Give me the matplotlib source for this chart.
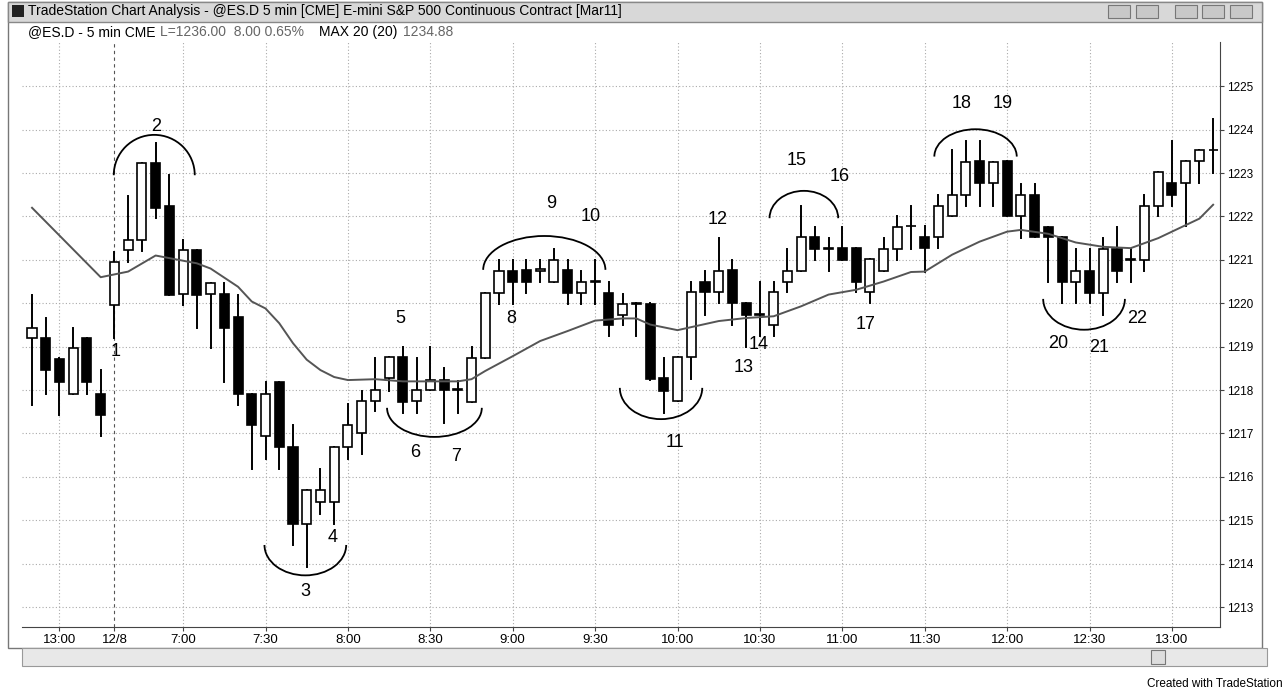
import matplotlib
matplotlib.use("Agg")
import matplotlib.pyplot as plt
from matplotlib.patches import Arc, Rectangle

opens = [1219.20,1219.19,1218.71,1217.92,1219.19,1217.92,1219.96,1221.23,1221.46,1223.23,
         1222.23,1220.22,1221.23,1220.22,1220.22,1219.69,1217.92,1216.94,1218.19,1216.69,
         1214.92,1215.42,1215.42,1216.69,1217.00,1217.75,1218.28,1218.76,1217.75,1217.99,
         1218.24,1217.99,1217.73,1218.74,1220.24,1220.75,1220.77,1220.75,1220.50,1220.77,
         1220.24,1220.50,1220.24,1219.74,1219.98,1219.98,1218.27,1217.75,1218.76,1220.50,
         1220.26,1220.77,1220.00,1219.74,1219.50,1220.50,1220.75,1221.52,1221.26,1221.27,
         1221.27,1220.26,1220.75,1221.26,1221.77,1221.52,1221.52,1222.00,1222.50,1223.27,
         1222.77,1223.27,1222.00,1222.50,1221.75,1221.52,1220.50,1220.75,1220.23,1221.25,
         1221.00,1221.00,1222.25,1222.77,1222.77,1223.27,1223.52]
closes = [1219.42,1218.46,1218.19,1218.96,1218.19,1217.42,1220.96,1221.46,1223.23,1222.19,
          1220.19,1221.22,1220.19,1220.46,1219.42,1217.92,1217.19,1217.92,1216.68,1214.92,
          1215.69,1215.69,1216.69,1217.19,1217.75,1217.99,1218.76,1217.73,1218.00,1218.24,
          1217.99,1218.02,1218.74,1220.24,1220.74,1220.50,1220.50,1220.79,1221.00,1220.24,
          1220.50,1220.52,1219.49,1219.98,1220.00,1218.25,1217.98,1218.76,1220.26,1220.26,
          1220.75,1220.00,1219.74,1219.76,1220.26,1220.75,1221.52,1221.26,1221.28,1221.00,
          1220.50,1221.03,1221.26,1221.75,1221.79,1221.27,1222.25,1222.50,1223.25,1222.77,
          1223.25,1222.00,1222.50,1221.52,1221.52,1220.50,1220.75,1220.23,1221.25,1220.75,
          1221.02,1222.25,1223.02,1222.50,1223.27,1223.52,1223.54]
highs = [1220.19,1219.65,1218.75,1219.42,1219.20,1218.46,1221.19,1222.46,1223.23,1223.70,
         1222.96,1221.46,1221.23,1220.46,1220.46,1220.19,1217.92,1218.19,1218.19,1217.19,
         1215.69,1216.19,1216.69,1217.69,1217.98,1218.73,1218.76,1218.99,1218.74,1218.99,
         1218.50,1218.22,1218.99,1220.24,1221.00,1221.00,1221.00,1221.00,1221.26,1221.00,
         1220.75,1221.00,1220.50,1220.21,1220.00,1220.00,1218.73,1218.76,1220.50,1220.75,
         1221.50,1221.00,1220.00,1220.50,1220.50,1221.26,1222.23,1221.75,1221.50,1221.75,
         1221.27,1221.03,1221.50,1222.00,1222.23,1221.77,1222.50,1223.52,1223.75,1223.75,
         1223.25,1223.27,1222.75,1222.75,1221.75,1221.52,1221.25,1221.25,1221.50,1221.75,
         1221.25,1222.50,1223.02,1223.75,1223.27,1223.52,1224.25]
lows = [1217.65,1217.92,1217.42,1217.92,1217.92,1216.94,1219.19,1220.96,1221.20,1221.96,
        1220.19,1219.96,1219.42,1218.96,1218.19,1217.65,1216.19,1216.42,1216.19,1214.42,
        1213.92,1215.15,1214.92,1216.42,1216.52,1217.52,1217.98,1217.48,1217.48,1217.99,
        1217.25,1217.48,1217.73,1218.74,1219.98,1219.98,1220.24,1220.50,1220.50,1219.98,
        1219.98,1219.98,1219.24,1219.49,1219.24,1218.24,1217.48,1217.75,1218.25,1219.74,
        1220.00,1219.50,1219.00,1219.24,1219.24,1220.26,1220.75,1221.00,1220.75,1221.00,
        1220.26,1220.00,1220.75,1221.00,1221.26,1220.73,1221.27,1222.00,1222.25,1222.25,
        1222.25,1222.00,1221.50,1221.52,1220.50,1220.00,1220.00,1220.00,1219.73,1220.50,
        1220.50,1220.75,1222.00,1222.25,1221.77,1222.77,1223.00]

ma_idx = [0,5,7,9,10,12,13,15,16,17,18,19,20,21,22,23,25,27,29,31,32,33,35,37,39,41,43,44,
          45,47,48,50,52,54,56,58,60,62,64,65,67,69,71,72,74,76,78,80,82,84,85,86]
ma_val = [1222.2,1220.6,1220.73,1221.1,1221.04,1220.92,1220.8,1220.38,1220.04,1219.88,1219.54,
          1219.08,1218.7,1218.46,1218.3,1218.23,1218.25,1218.2,1218.2,1218.2,1218.25,1218.44,
          1218.78,1219.13,1219.36,1219.6,1219.65,1219.65,1219.51,1219.38,1219.45,1219.59,
          1219.66,1219.7,1219.93,1220.2,1220.31,1220.5,1220.72,1220.73,1221.12,1221.42,
          1221.65,1221.69,1221.6,1221.4,1221.3,1221.27,1221.5,1221.8,1221.95,1222.27]

tick_idx = [2,6,11,17,23,29,35,41,47,53,59,65,71,77,83]
tick_lbl = ["13:00","12/8","7:00","7:30","8:00","8:30","9:00","9:30","10:00","10:30",
            "11:00","11:30","12:00","12:30","13:00"]
price_ticks = list(range(1213, 1226))

ann_text = [str(k) for k in range(1, 23)]
ann_x = [6.1,9,19.9,21.9,26.8,27.9,30.9,34.9,37.8,40.7,46.8,49.9,51.8,52.9,55.7,58.8,60.7,67.7,70.7,74.7,77.7,80.5]
ann_y = [1218.88,1224.08,1213.35,1214.6,1219.66,1216.57,1216.48,1219.66,1222.3,1222.0,1216.8,
         1221.94,1218.53,1219.04,1223.28,1222.93,1219.5,1224.6,1224.6,1219.08,1218.97,1219.66]

arc_cx = [8.9,19.9,29.3,37.3,45.8,56.2,68.7,76.6]
arc_cy = [1222.95,1214.43,1217.59,1220.77,1218.05,1221.96,1223.38,1220.1]
arc_w = [5.9,5.95,6.9,8.9,6.0,5.0,6.0,5.95]
arc_h = [0.93,0.7,0.67,0.78,0.72,0.63,0.63,0.71]
arc_top = [True,False,False,True,False,True,True,False]

W, H = 1286, 690
fig = plt.figure(figsize=(W/100, H/100), dpi=100)
fig.patch.set_facecolor("white")
plt.rcParams['font.family'] = ['Liberation Sans', 'DejaVu Sans']

def fx(px): return px / W
def fy(py): return 1 - py / H

def frect(x0, y0, x1, y1, **kw):
    fig.patches.append(Rectangle((fx(x0), fy(y1)), fx(x1 - x0), fy(y0) - fy(y1),
                                 transform=fig.transFigure, **kw))

frect(8, 2, 1262, 648, facecolor="white", edgecolor="#777777", lw=1, zorder=-2)
frect(8, 2, 1262, 22, facecolor="#d8d8d8", edgecolor="#888888", lw=1, zorder=-1)
frect(12, 5, 24, 17, facecolor="#222222", edgecolor="none", zorder=-1)
for bx in [1108, 1136, 1175, 1202, 1230]:
    frect(bx, 5, bx + 22, 18, facecolor="#c8c8c8", edgecolor="#777777", lw=0.8, zorder=-1)
frect(22, 648, 1267, 666, facecolor="#e8e8e8", edgecolor="#999999", lw=0.8, zorder=-1)
frect(1151, 650, 1165, 664, facecolor="#dddddd", edgecolor="#777777", lw=0.8, zorder=-1)

fig.text(fx(28), fy(11), "TradeStation Chart Analysis - @ES.D 5 min [CME] E-mini S&P 500 Continuous Contract [Mar11]",
         fontsize=10, va="center", ha="left")
fig.text(fx(28), fy(32), "@ES.D - 5 min CME", fontsize=10, va="center")
fig.text(fx(160), fy(32), "L=1236.00  8.00 0.65%", fontsize=10, va="center", color="#666666")
fig.text(fx(319), fy(32), "MAX 20 (20)", fontsize=10, va="center")
fig.text(fx(403), fy(32), "1234.88", fontsize=10, va="center", color="#666666")
fig.text(fx(1283), fy(684), "Created with TradeStation", fontsize=8.5, ha="right", va="center")

ax = fig.add_axes([fx(22), fy(627), fx(1220 - 22), fy(42) - fy(627)])
ax.set_zorder(5)
ax.set_facecolor("white")
ax.set_xlim(-0.73, 86.5)
ax.set_ylim(1212.54, 1226.02)
for s in ["top", "left"]:
    ax.spines[s].set_visible(False)
ax.spines["right"].set_color("#444444")
ax.spines["bottom"].set_color("#444444")

for t in tick_idx:
    if t == 6:
        ax.axvline(t, color="#555555", ls=(0, (3, 3)), lw=0.8, zorder=0)
    else:
        ax.axvline(t, color="#aaaaaa", ls=(0, (1, 2)), lw=0.8, zorder=0)
for p in price_ticks:
    ax.axhline(p, color="#aaaaaa", ls=(0, (1, 2)), lw=0.8, zorder=0)

ax.yaxis.tick_right()
ax.set_yticks(price_ticks)
ax.set_yticklabels([str(p) for p in price_ticks], fontsize=8.5)
ax.set_xticks(tick_idx)
ax.set_xticklabels(tick_lbl, fontsize=9.5)
ax.tick_params(axis="both", length=3, color="#444444", pad=2)

bw = 0.66
for i in range(len(opens)):
    o, c, h, l = opens[i], closes[i], highs[i], lows[i]
    ax.plot([i, i], [l, h], color="black", lw=1.4, zorder=2)
    lo, hi = min(o, c), max(o, c)
    hgt = max(hi - lo, 0.02)
    fc = "white" if c >= o else "black"
    ax.add_patch(Rectangle((i - bw/2, lo), bw, hgt, facecolor=fc, edgecolor="black", lw=1.2, zorder=3))

ax.plot(ma_idx, ma_val, color="#555555", lw=1.4, zorder=4)

for t, x, y in zip(ann_text, ann_x, ann_y):
    ax.text(x, y, t, fontsize=13, ha="center", va="center", zorder=5)

for cx, cy, w, h, top in zip(arc_cx, arc_cy, arc_w, arc_h, arc_top):
    t1, t2 = (0, 180) if top else (180, 360)
    ax.add_patch(Arc((cx, cy), w, 2*h, theta1=t1, theta2=t2, color="black", lw=1.3, zorder=5))

fig.savefig("out.png", dpi=100)
